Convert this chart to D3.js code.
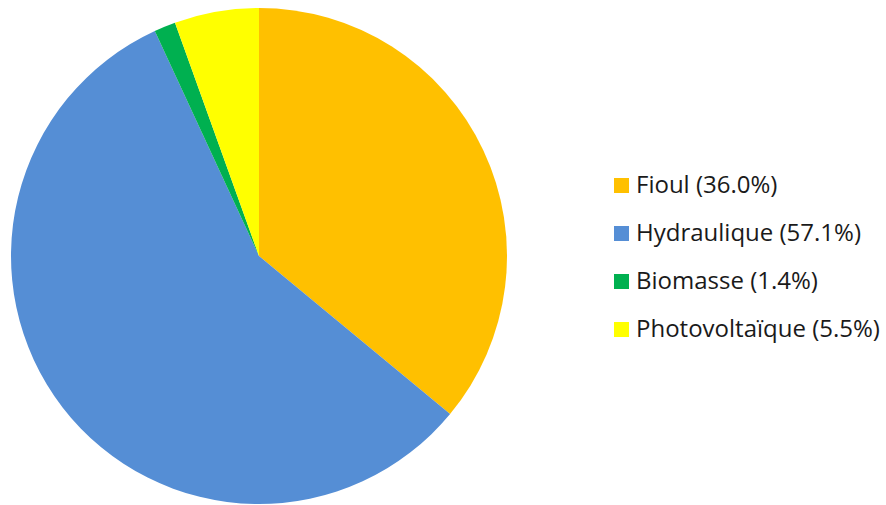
<!DOCTYPE html>
<html>
<head>
<meta charset="utf-8">
<script src="https://cdn.jsdelivr.net/npm/d3@7"></script>
<style>
  body { margin: 0; background: #fff; }
  svg { display: block; }
</style>
</head>
<body>
<svg id="chart" width="886" height="505"></svg>
<script>
// energy sources and their share (%)
var sources = ["Fioul", "Hydraulique", "Biomasse", "Photovoltaïque"];
var shares = [36.0, 57.1, 1.4, 5.5];
var colors = ["#FFC000", "#558ED5", "#00B050", "#FFFF00"];

var svg = d3.select("#chart");

var cx = 259, cy = 256, r = 248;

var pie = d3.pie().sort(null).value(d => d.value);
var arc = d3.arc().innerRadius(0).outerRadius(r);

var data = sources.map((s, i) => ({ name: s, value: shares[i], color: colors[i] }));

svg.append("g")
    .attr("transform", "translate(" + cx + "," + cy + ")")
    .selectAll("path")
    .data(pie(data))
    .enter()
    .append("path")
    .attr("d", arc)
    .attr("fill", d => d.data.color);

// legend
var legendY = d3.scalePoint().domain(sources).range([185, 329]);

var legend = svg.append("g").attr("class", "legend");
var rows = legend.selectAll("g")
    .data(data)
    .enter()
    .append("g")
    .attr("transform", d => "translate(614," + legendY(d.name) + ")");

rows.append("rect")
    .attr("x", 0)
    .attr("y", -7)
    .attr("width", 15)
    .attr("height", 15)
    .attr("fill", d => d.color);

rows.append("text")
    .attr("x", 22)
    .attr("dy", "0.35em")
    .style("font-family", "'Open Sans', sans-serif")
    .style("font-size", "24px")
    .attr("fill", "#1a1a1a")
    .text(d => d.name + " (" + d.value.toFixed(1) + "%)");
</script>
</body>
</html>
